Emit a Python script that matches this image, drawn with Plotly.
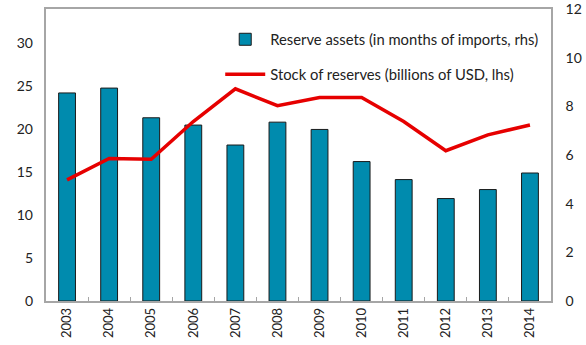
import plotly.graph_objects as go

years = ["2003", "2004", "2005", "2006", "2007", "2008", "2009", "2010", "2011", "2012", "2013", "2014"]
months_of_imports = [8.55, 8.75, 7.53, 7.23, 6.41, 7.35, 7.05, 5.73, 4.99, 4.21, 4.58, 5.26]
stock_reserves = [14.1, 16.6, 16.5, 20.9, 24.7, 22.75, 23.7, 23.7, 20.9, 17.5, 19.35, 20.5]

fig = go.Figure()
fig.add_trace(go.Bar(
    x=years, y=months_of_imports, name="Reserve assets (in months of imports, rhs)",
    marker=dict(color="#008BAE", line=dict(color="#1a1a1a", width=1)),
    width=0.4, yaxis="y", legend="legend",
))
fig.add_trace(go.Scatter(
    x=years, y=stock_reserves, name="Stock of reserves (billions of USD, lhs)",
    mode="lines", line=dict(color="#E60000", width=3.5), yaxis="y2", legend="legend2",
))

font = "Lato, 'Open Sans', sans-serif"
leg = dict(xanchor="left", yanchor="middle", bgcolor="rgba(0,0,0,0)",
           font=dict(size=14.8, color="#222222"), itemwidth=40)
fig.update_layout(
    width=586, height=345,
    margin=dict(l=46, r=35, t=9, b=44),
    paper_bgcolor="white", plot_bgcolor="white",
    font=dict(family=font, size=14, color="#222222"),
    showlegend=True,
    legend=dict(x=0.345, y=0.895, **leg),
    legend2=dict(x=0.345, y=0.775, **leg),
    xaxis=dict(type="category", showline=True, linecolor="#A6A6A6", linewidth=1.5, mirror=True,
               ticks="inside", tickson="boundaries", ticklen=4, tickcolor="#A6A6A6",
               tickangle=-90, tickfont=dict(size=13), showgrid=False, automargin=False),
    yaxis=dict(side="right", range=[0, 12], tickvals=[0, 2, 4, 6, 8, 10, 12], showgrid=False,
               showline=True, linecolor="#A6A6A6", linewidth=1.5, mirror=True, zeroline=False,
               ticks="", ticklabelstandoff=10, automargin=False, ticklabeloverflow="allow"),
    yaxis2=dict(side="left", overlaying="y", range=[0, 34], showgrid=False,
                showline=False, zeroline=False, ticks="", ticklabelstandoff=12,
                tickvals=[0, 5, 10, 15, 20, 25, 30], automargin=False),
)

fig.write_html("out.html", config={"displayModeBar": False},
               post_script="document.body.style.margin='0';document.body.style.overflow='hidden';")
